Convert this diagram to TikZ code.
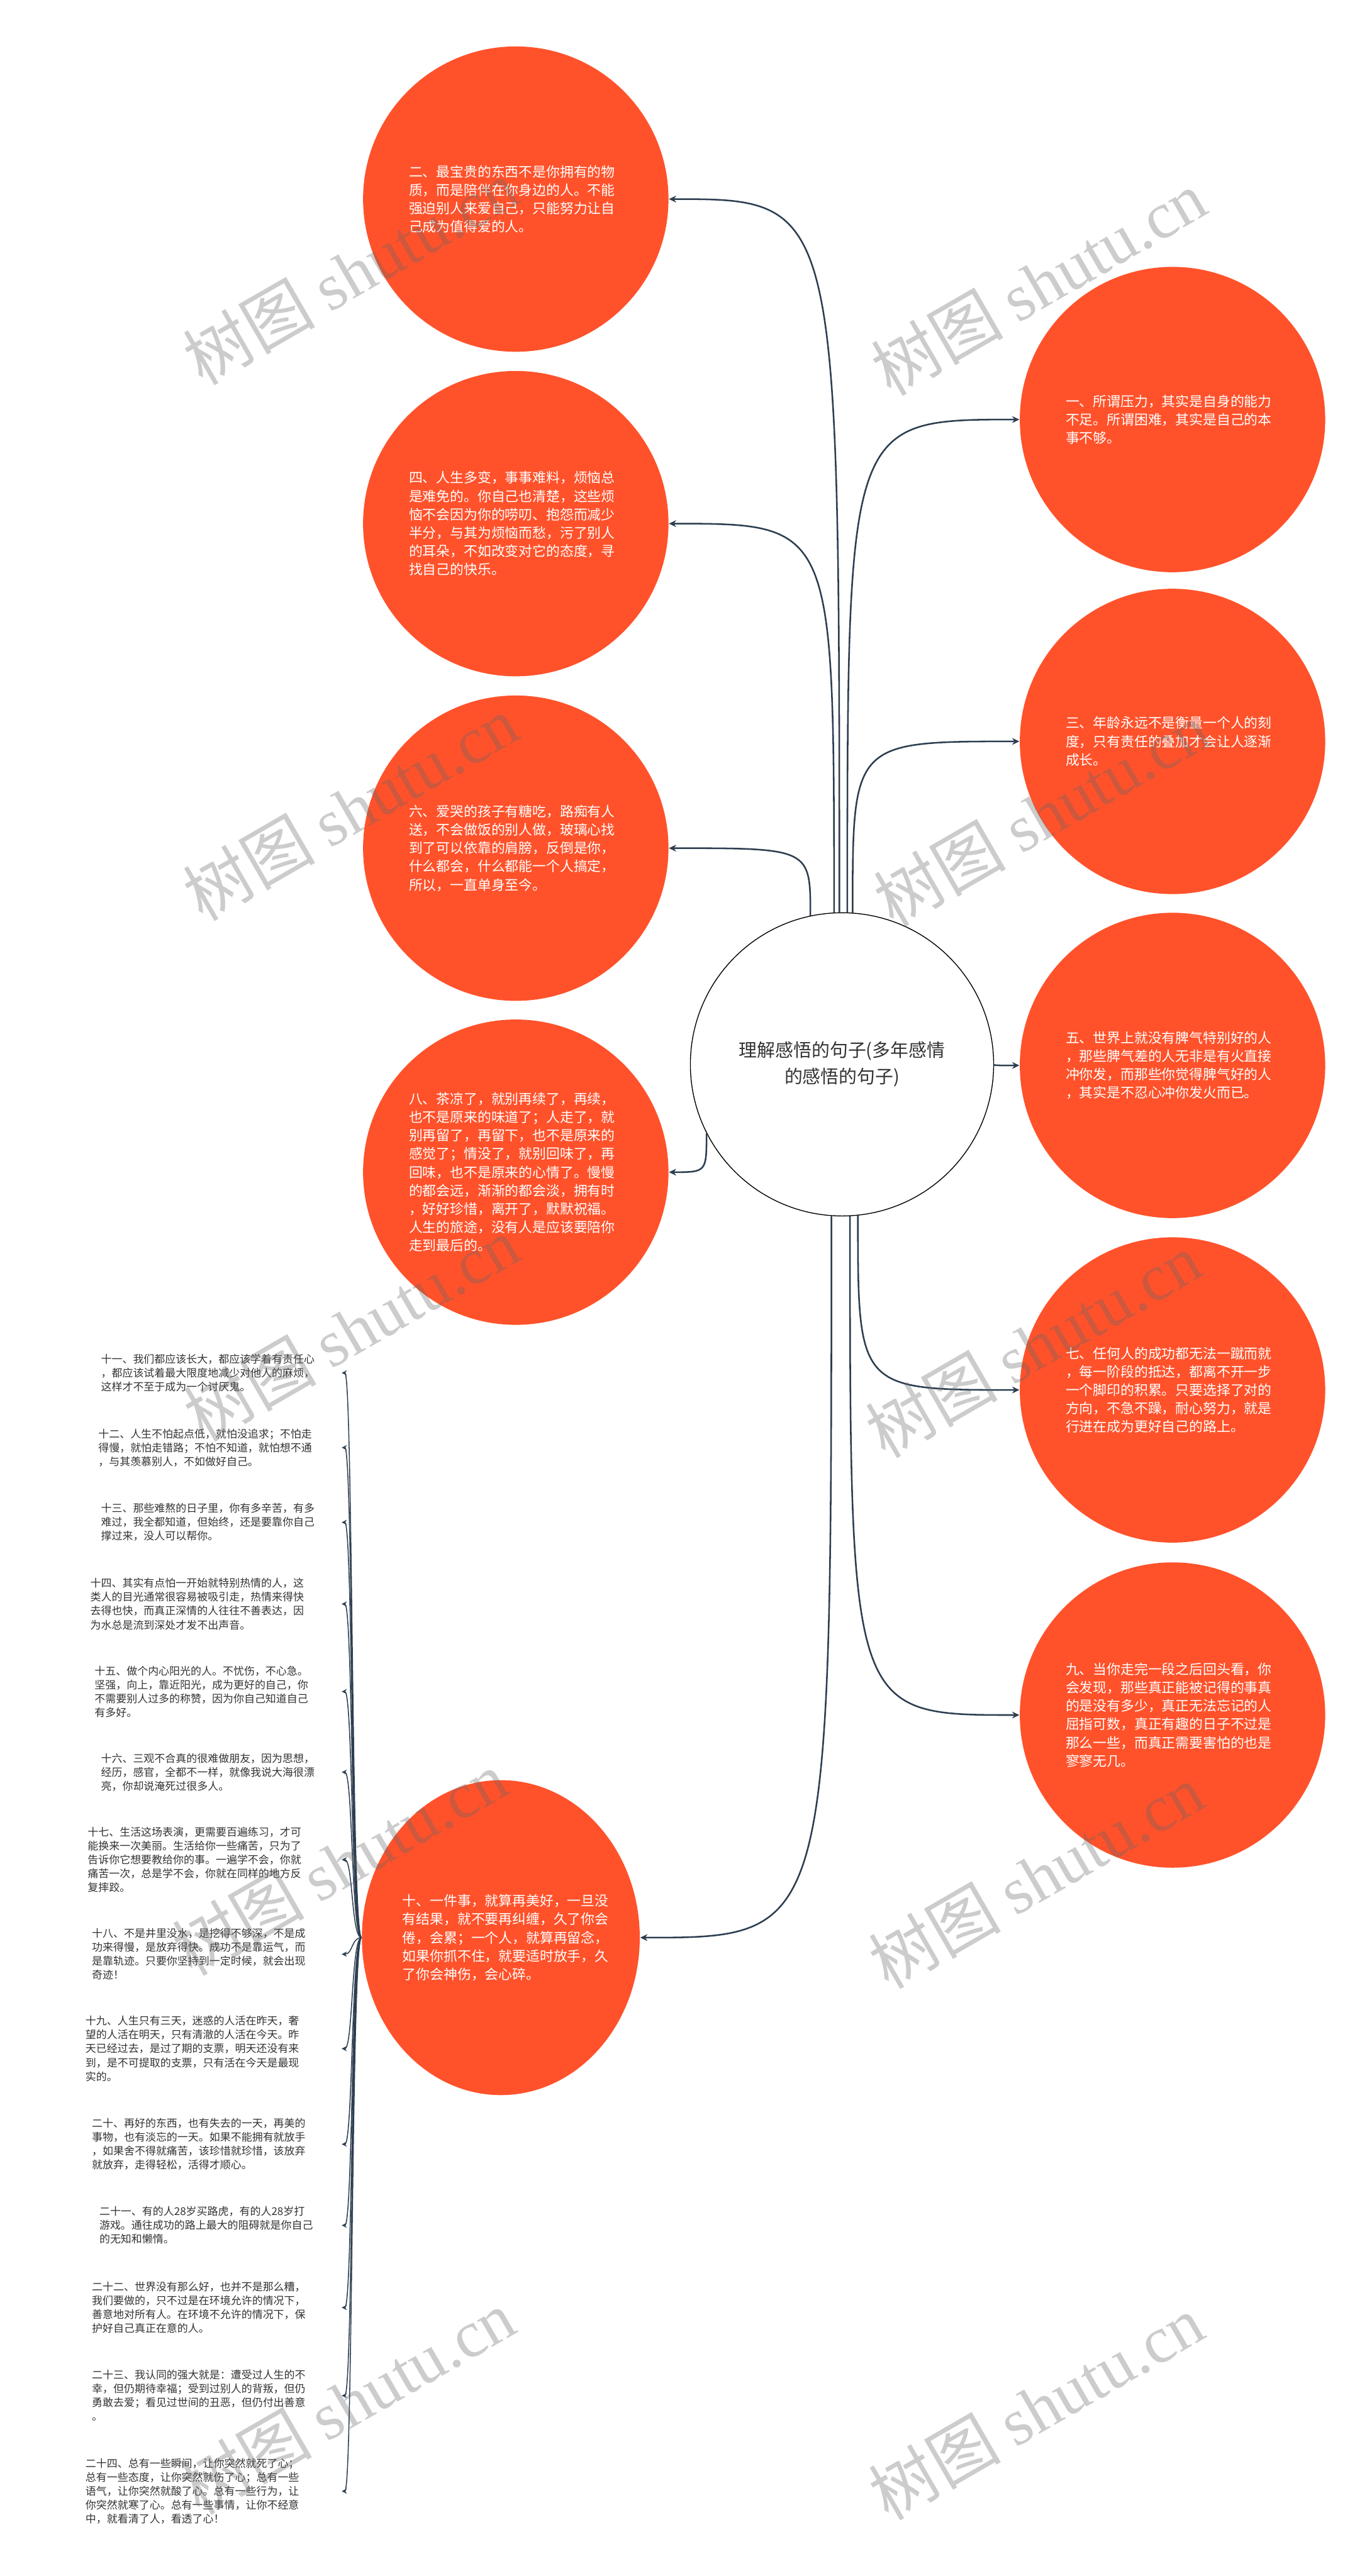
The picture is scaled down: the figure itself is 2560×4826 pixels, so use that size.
\documentclass[tikz,border=0pt]{standalone}
\usepackage{fontspec}
\setmainfont{Noto Sans CJK SC}
\newfontfamily\wmlatin{Liberation Serif}
\usetikzlibrary{shapes.geometric,arrows.meta,calc}
\definecolor{orng}{RGB}{255,82,43}
\definecolor{lnk}{RGB}{44,62,80}
\definecolor{txt}{RGB}{51,51,51}
\begin{document}
\begin{tikzpicture}[x=0.25pt,y=-0.25pt,
  bubble/.style={circle,fill=orng,minimum size=143pt,inner sep=0pt,text=white,align=left,text width=100pt,font=\fontsize{6.43pt}{8.6pt}\selectfont},
  item/.style={anchor=east,inner sep=0pt,align=left,text=txt,font=\fontsize{5pt}{6.5pt}\selectfont},
  link/.style={draw=lnk,line width=0.75pt,-{Stealth[length=3.4pt,width=3.2pt]}},
  sublink/.style={draw=lnk,line width=0.45pt,-{Stealth[length=2.4pt,width=2.4pt]}},
  wm/.style={rotate=30,text=black!60,text opacity=0.33,inner sep=0pt,font=\fontsize{31pt}{31pt}\selectfont}]
\useasboundingbox (0,0) rectangle (2560,4826);
\fill[white] (0,0) rectangle (2560,4826);

% hub
\node[circle,draw=black,line width=0.4pt,minimum size=142pt,inner sep=0pt,align=center,text=txt,font=\fontsize{8.5pt}{12.3pt}\selectfont] (hub) at (1577,1994) {理解感悟的句子(多年感情\\的感悟的句子)};

% left circles
\node[bubble] (c2) at (966,373) {二、最宝贵的东西不是你拥有的物\\质，而是陪伴在你身边的人。不能\\强迫别人来爱自己，只能努力让自\\己成为值得爱的人。};
\node[bubble] (c4) at (966,981) {四、人生多变，事事难料，烦恼总\\是难免的。你自己也清楚，这些烦\\恼不会因为你的唠叨、抱怨而减少\\半分，与其为烦恼而愁，污了别人\\的耳朵，不如改变对它的态度，寻\\找自己的快乐。};
\node[bubble] (c6) at (966,1589) {六、爱哭的孩子有糖吃，路痴有人\\送，不会做饭的别人做，玻璃心找\\到了可以依靠的肩膀，反倒是你，\\什么都会，什么都能一个人搞定，\\所以，一直单身至今。};
\node[bubble] (c8) at (966,2196) {八、茶凉了，就别再续了，再续，\\也不是原来的味道了；人走了，就\\别再留了，再留下，也不是原来的\\感觉了；情没了，就别回味了，再\\回味，也不是原来的心情了。慢慢\\的都会远，渐渐的都会淡，拥有时\\，好好珍惜，离开了，默默祝福。\\人生的旅途，没有人是应该要陪你\\走到最后的。};

% right circles
\node[bubble] (c1) at (2196,786) {一、所谓压力，其实是自身的能力\\不足。所谓困难，其实是自己的本\\事不够。};
\node[bubble] (c3) at (2196,1389) {三、年龄永远不是衡量一个人的刻\\度，只有责任的叠加才会让人逐渐\\成长。};
\node[bubble] (c5) at (2196,1996) {五、世界上就没有脾气特别好的人\\，那些脾气差的人无非是有火直接\\冲你发，而那些你觉得脾气好的人\\，其实是不忍心冲你发火而已。};
\node[bubble] (c7) at (2196,2604) {七、任何人的成功都无法一蹴而就\\，每一阶段的抵达，都离不开一步\\一个脚印的积累。只要选择了对的\\方向，不急不躁，耐心努力，就是\\行进在成为更好自己的路上。};
\node[bubble] (c9) at (2196,3213) {九、当你走完一段之后回头看，你\\会发现，那些真正能被记得的事真\\的是没有多少，真正无法忘记的人\\屈指可数，真正有趣的日子不过是\\那么一些，而真正需要害怕的也是\\寥寥无几。};

% ten (ellipse)
\node[ellipse,fill=orng,minimum width=129pt,minimum height=147.5pt,inner sep=0pt,text=white,align=left,text width=92pt,font=\fontsize{6.43pt}{8.6pt}\selectfont] (c10) at (938,3630) {十、一件事，就算再美好，一旦没\\有结果，就不要再纠缠，久了你会\\倦，会累；一个人，就算再留念，\\如果你抓不住，就要适时放手，久\\了你会神伤，会心碎。};

% hub connectors
\draw[link] (hub.91) .. controls (hub.91 |- c2.east) .. (c2.east);
\draw[link] (hub.93) .. controls (hub.93 |- c4.east) .. (c4.east);
\draw[link] (hub.102) .. controls (hub.102 |- c6.east) .. (c6.east);
\draw[link] (hub.207) .. controls (hub.207 |- c8.east) .. (c8.east);
\draw[link] (hub.88) .. controls (hub.88 |- c1.west) .. (c1.west);
\draw[link] (hub.86) .. controls (hub.86 |- c3.west) .. (c3.west);
\draw[link] (hub.east) .. controls (hub.east |- c5.west) .. (c5.west);
\draw[link] (hub.276) .. controls (hub.276 |- c7.west) .. (c7.west);
\draw[link] (hub.273) .. controls (hub.273 |- c9.west) .. (c9.west);
\draw[link] (hub.266) .. controls (hub.266 |- c10.east) .. (c10.east);

% list items
\node[item,text width=112.5pt] (l11) at (640,2572) {十一、我们都应该长大，都应该学着有责任心\\，都应该试着最大限度地减少对他人的麻烦，\\这样才不至于成为一个讨厌鬼。};
\node[item,text width=113.75pt] (l12) at (640,2712) {十二、人生不怕起点低，就怕没追求；不怕走\\得慢，就怕走错路；不怕不知道，就怕想不通\\，与其羡慕别人，不如做好自己。};
\node[item,text width=112.5pt] (l13) at (640,2852) {十三、那些难熬的日子里，你有多辛苦，有多\\难过，我全都知道，但始终，还是要靠你自己\\撑过来，没人可以帮你。};
\node[item,text width=117.5pt] (l14) at (640,3005) {十四、其实有点怕一开始就特别热情的人，这\\类人的目光通常很容易被吸引走，热情来得快\\去得也快，而真正深情的人往往不善表达，因\\为水总是流到深处才发不出声音。};
\node[item,text width=115.5pt] (l15) at (640,3169) {十五、做个内心阳光的人。不忧伤，不心急。\\坚强，向上，靠近阳光，成为更好的自己，你\\不需要别人过多的称赞，因为你自己知道自己\\有多好。};
\node[item,text width=112.5pt] (l16) at (640,3320) {十六、三观不合真的很难做朋友，因为思想，\\经历，感官，全都不一样，就像我说大海很漂\\亮，你却说淹死过很多人。};
\node[item,text width=118.75pt] (l17) at (640,3484) {十七、生活这场表演，更需要百遍练习，才可\\能换来一次美丽。生活给你一些痛苦，只为了\\告诉你它想要教给你的事。一遍学不会，你就\\痛苦一次，总是学不会，你就在同样的地方反\\复摔跤。};
\node[item,text width=116.75pt] (l18) at (640,3661) {十八、不是井里没水，是挖得不够深，不是成\\功来得慢，是放弃得快。成功不是靠运气，而\\是靠轨迹。只要你坚持到一定时候，就会出现\\奇迹！};
\node[item,text width=119.75pt] (l19) at (640,3838) {十九、人生只有三天，迷惑的人活在昨天，奢\\望的人活在明天，只有清澈的人活在今天。昨\\天已经过去，是过了期的支票，明天还没有来\\到，是不可提取的支票，只有活在今天是最现\\实的。};
\node[item,text width=116.75pt] (l20) at (640,4017) {二十、再好的东西，也有失去的一天，再美的\\事物，也有淡忘的一天。如果不能拥有就放手\\，如果舍不得就痛苦，该珍惜就珍惜，该放弃\\就放弃，走得轻松，活得才顺心。};
\node[item,text width=113.25pt] (l21) at (640,4169) {二十一、有的人28岁买路虎，有的人28岁打\\游戏。通往成功的路上最大的阻碍就是你自己\\的无知和懒惰。};
\node[item,text width=116.75pt] (l22) at (640,4323) {二十二、世界没有那么好，也并不是那么糟，\\我们要做的，只不过是在环境允许的情况下，\\善意地对所有人。在环境不允许的情况下，保\\护好自己真正在意的人。};
\node[item,text width=116.75pt] (l23) at (640,4488) {二十三、我认同的强大就是：遭受过人生的不\\幸，但仍期待幸福；受到过别人的背叛，但仍\\勇敢去爱；看见过世间的丑恶，但仍付出善意\\。};
\node[item,text width=119.75pt] (l24) at (640,4667) {二十四、总有一些瞬间，让你突然就死了心；\\总有一些态度，让你突然就伤了心；总有一些\\语气，让你突然就酸了心。总有一些行为，让\\你突然就寒了心。总有一些事情，让你不经意\\中，就看清了人，看透了心！};

\foreach \n in {11,...,24}
  \draw[sublink] (c10.west) .. controls +(-19,0) and +(21,0) .. (l\n.east);

% watermarks
\foreach \wx/\wy [count=\k] in {656/510,656/1514,658/2490,636/3490,650/4500,1945/530,1950/1525,1935/2520,1940/3515,1940/4510}
  \node[wm] (wm\k) at (\wx,\wy) {树图 {\wmlatin shutu.cn}};
\end{tikzpicture}
\end{document}
